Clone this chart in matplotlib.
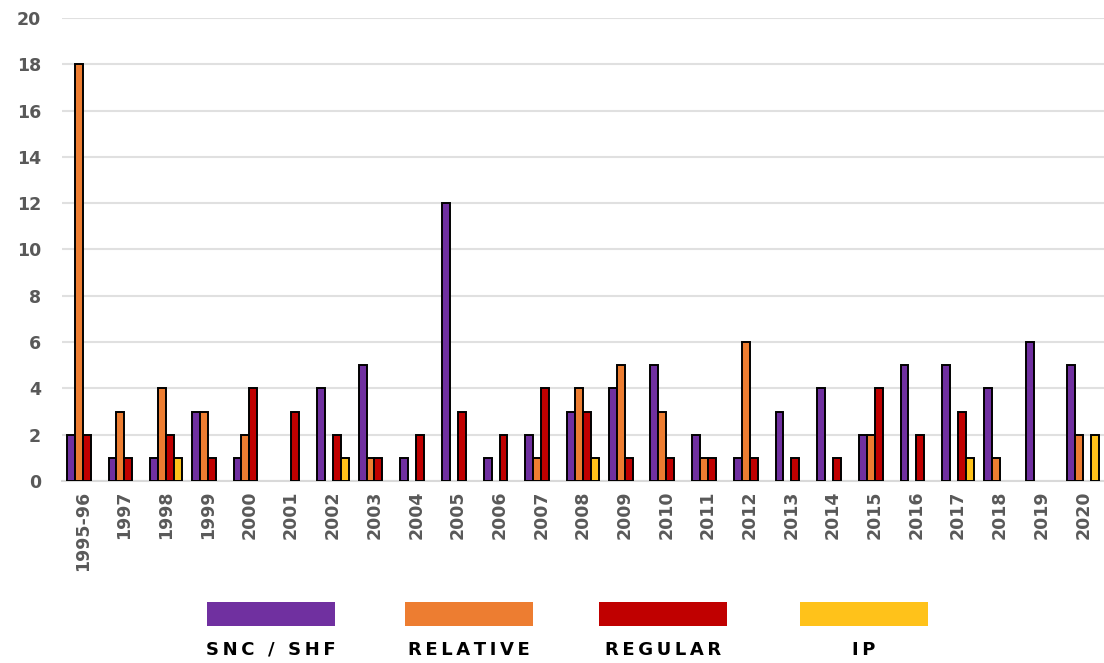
import numpy as np
import matplotlib.pyplot as plt
from matplotlib.patches import Rectangle

# Data
years = ['1995-96', '1997', '1998', '1999', '2000', '2001', '2002', '2003', '2004',
         '2005', '2006', '2007', '2008', '2009', '2010', '2011', '2012', '2013',
         '2014', '2015', '2016', '2017', '2018', '2019', '2020']
snc_shf = [2, 1, 1, 3, 1, 0, 4, 5, 1, 12, 1, 2, 3, 4, 5, 2, 1, 3, 4, 2, 5, 5, 4, 6, 5]
relative = [18, 3, 4, 3, 2, 0, 0, 1, 0, 0, 0, 1, 4, 5, 3, 1, 6, 0, 0, 2, 0, 0, 1, 0, 2]
regular = [2, 1, 2, 1, 4, 3, 2, 1, 2, 3, 2, 4, 3, 1, 1, 1, 1, 1, 1, 4, 2, 3, 0, 0, 0]
ip = [0, 0, 1, 0, 0, 0, 1, 0, 0, 0, 0, 0, 1, 0, 0, 0, 0, 0, 0, 0, 0, 1, 0, 0, 2]

series_names = ['SNC / SHF', 'RELATIVE', 'REGULAR', 'IP']
colors = ['#7030A0', '#ED7D31', '#C00000', '#FFC21A']

fig = plt.figure(figsize=(11.04, 6.63), dpi=100)
ax = fig.add_axes([0.056, 0.2745, 0.944, 0.6985])

x = np.arange(len(years))
w = 0.19
all_series = [snc_shf, relative, regular, ip]
for i, (vals, col) in enumerate(zip(all_series, colors)):
    vals = np.array(vals)
    mask = vals > 0
    ax.bar(x[mask] + (i - 1.5) * w, vals[mask], width=w, color=col,
           edgecolor='black', linewidth=1.4, zorder=3)

ax.set_xlim(-0.5, len(years) - 0.5)
ax.set_ylim(0, 20)
ax.set_yticks(range(0, 21, 2))
ax.yaxis.grid(True, color='#e0e0e0', linewidth=1.5, zorder=0)
ax.set_axisbelow(True)
for s in ['top', 'right', 'left']:
    ax.spines[s].set_visible(False)
ax.spines['bottom'].set_color('#d9d9d9')
ax.spines['bottom'].set_linewidth(1.5)
ax.tick_params(axis='both', length=0)
ax.tick_params(axis='y', pad=15)
ax.tick_params(axis='x', pad=7)
ax.set_xticks(x)
ax.set_xticklabels(years, rotation=90, fontsize=12.5, fontweight='bold',
                   color='#595959', va='top')
for lbl in ax.get_yticklabels():
    lbl.set_fontsize(12.5)
    lbl.set_fontweight('bold')
    lbl.set_color('#595959')

# Legend: colour strips with spaced labels underneath
legend_x = [207, 405, 599, 800]
W, H = 1104, 663
for name, col, lx in zip(series_names, colors, legend_x):
    fig.patches.append(Rectangle((lx / W, 1 - 626 / H), 128 / W, 24 / H,
                                 transform=fig.transFigure, facecolor=col,
                                 edgecolor='none'))
    fig.text((lx + 64) / W, 1 - 650 / H, '\u2009'.join(name), ha='center',
             va='center', fontsize=13, fontweight='bold', color='black')

fig.savefig('out.png', dpi=100)
